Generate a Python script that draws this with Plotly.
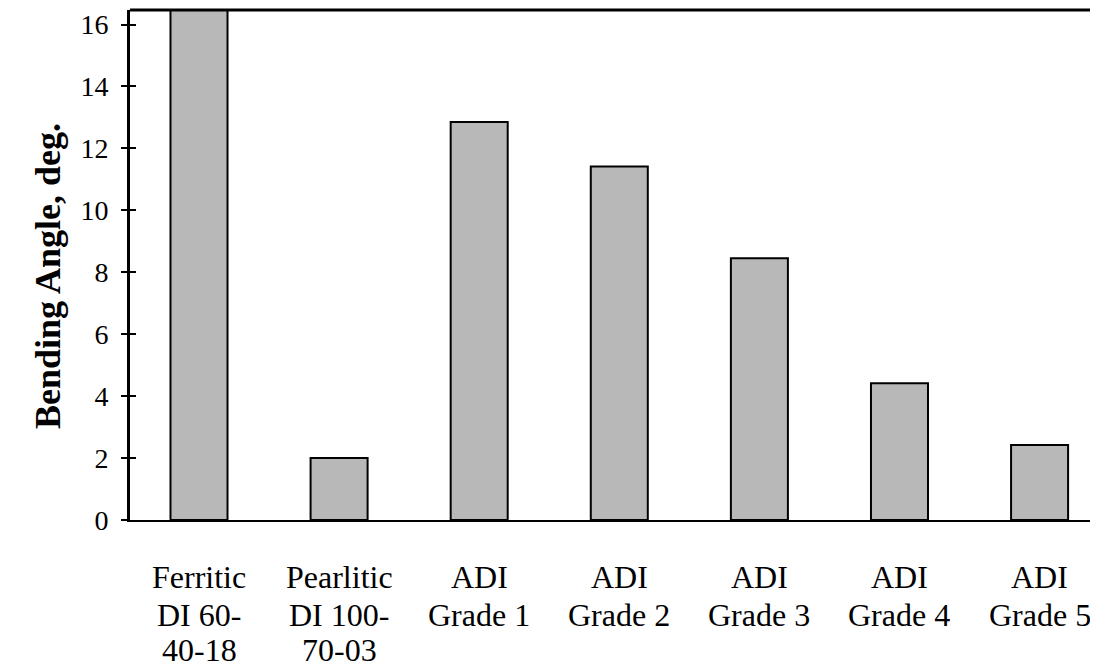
import plotly.graph_objects as go

categories = ["Ferritic<br>DI 60-<br>40-18", "Pearlitic<br>DI 100-<br>70-03",
              "ADI<br>Grade 1", "ADI<br>Grade 2", "ADI<br>Grade 3",
              "ADI<br>Grade 4", "ADI<br>Grade 5"]
bending_angle = [18.0, 2.0, 12.85, 11.42, 8.45, 4.42, 2.42]
y_ticks = [0, 2, 4, 6, 8, 10, 12, 14, 16]
y_title = "Bending Angle, deg."

Y_RANGE = [0, 16.47]
FONT = "Liberation Serif, Times New Roman, serif"

# page has an 8px body margin; plot area placed to match the reference
W, H = 1090, 662
ML, MT, MB, MR = 122, 2, 150, 0
PLOT_H = H - MT - MB  # 510

fig = go.Figure()
fig.add_trace(go.Bar(
    x=categories, y=bending_angle, width=0.407,
    marker=dict(color="#b8b8b8", line=dict(color="black", width=2)),
    showlegend=False, hoverinfo="y"))
# invisible helper so the inner-tick axis is drawn
fig.add_trace(go.Scatter(x=[categories[0]], y=[0], yaxis="y2", mode="markers",
                         marker=dict(opacity=0), showlegend=False, hoverinfo="skip"))

# category labels: one annotation per line (tighter line spacing than tick labels)
line_offsets = [57, 95, 130]  # px below the x axis (line centres)
annotations = []
for cat in categories:
    for i, line in enumerate(cat.split("<br>")):
        annotations.append(dict(
            x=cat, xref="x", y=-line_offsets[i] / PLOT_H, yref="paper",
            text=line, showarrow=False, xanchor="center", yanchor="middle",
            borderpad=0,
            font=dict(size=32, family=FONT, color="black")))
annotations.append(dict(
    x=-(130 - 48) / 968, xref="paper", y=(520 - 276) / PLOT_H, yref="paper",
    text="<b>" + y_title + "</b>", textangle=-90, showarrow=False,
    xanchor="center", yanchor="middle",
    font=dict(size=36, family=FONT, color="black")))

fig.update_layout(
    width=W, height=H,
    margin=dict(l=ML, r=MR, t=MT, b=MB, autoexpand=False),
    paper_bgcolor="white", plot_bgcolor="white",
    font=dict(family=FONT, color="black"),
    bargap=0.6,
    xaxis=dict(
        type="category", range=[-0.4925, 6.417], automargin=False,
        showline=True, linecolor="black", linewidth=2,
        ticks="", showgrid=False, zeroline=False, showticklabels=False,
    ),
    yaxis=dict(
        range=Y_RANGE, tickvals=y_ticks, automargin=False,
        showline=True, linecolor="black", linewidth=3,
        ticks="outside", ticklen=6, tickwidth=2, tickcolor="black",
        showgrid=False, zeroline=False,
        tickfont=dict(size=28, family=FONT, color="black"),
        ticklabelstandoff=7,
    ),
    yaxis2=dict(
        range=Y_RANGE, overlaying="y", side="left", tickvals=y_ticks,
        ticks="inside", ticklen=6, tickwidth=2, tickcolor="black",
        showticklabels=False, showgrid=False, zeroline=False, showline=False,
        automargin=False,
    ),
    annotations=annotations,
    shapes=[dict(type="line", xref="paper", yref="paper", x0=0, x1=1, y0=1, y1=1,
                 line=dict(color="black", width=3))],
)

fig.write_html("out.html")
